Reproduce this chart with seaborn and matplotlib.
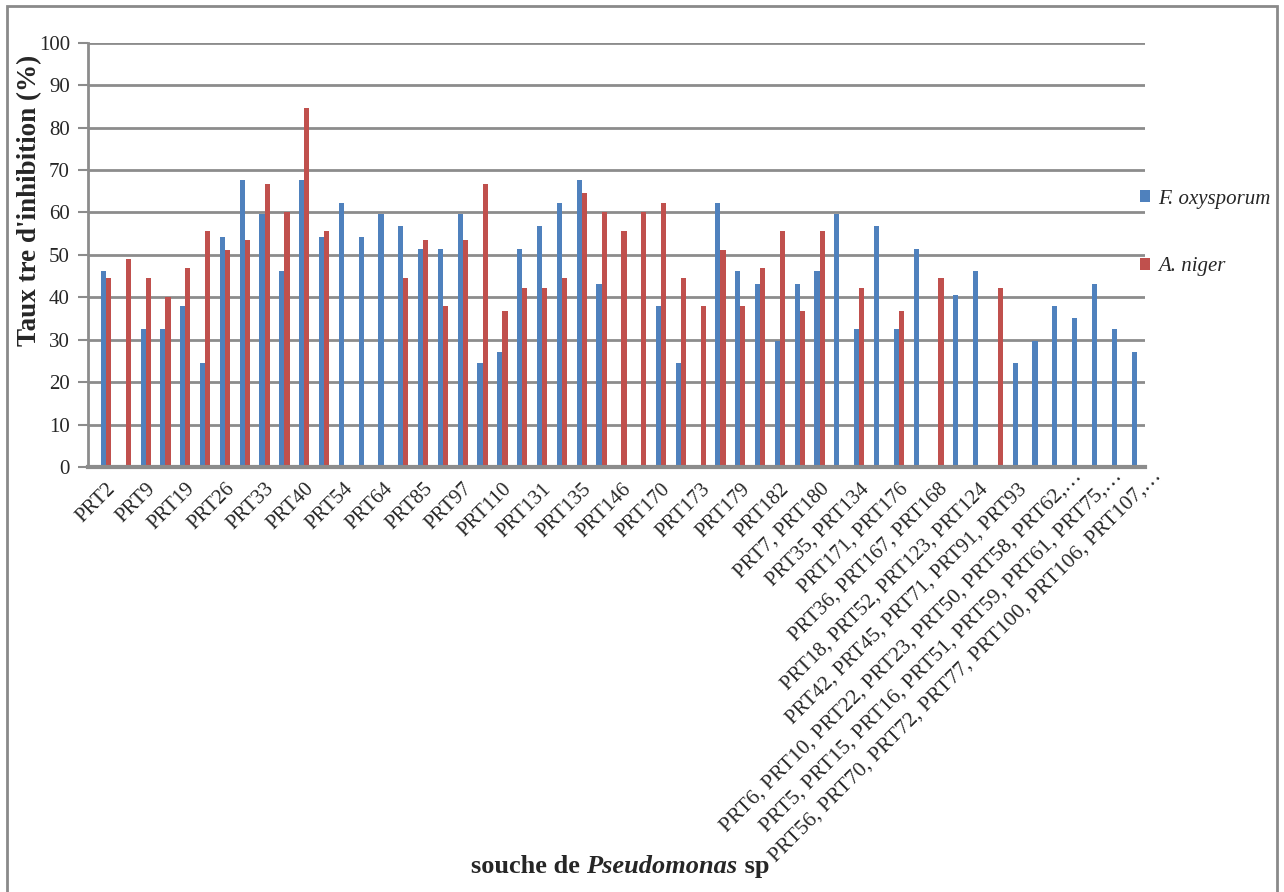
import numpy as np
import pandas as pd
import seaborn as sns
import matplotlib
matplotlib.use("Agg")
import matplotlib.pyplot as plt
import matplotlib.transforms as mtransforms
from matplotlib.patches import Rectangle, Patch

# ---------------- data ----------------
shown_labels = [
    "PRT2", "PRT9", "PRT19", "PRT26", "PRT33", "PRT40", "PRT54", "PRT64",
    "PRT85", "PRT97", "PRT110", "PRT131", "PRT135", "PRT146", "PRT170",
    "PRT173", "PRT179", "PRT182", "PRT7, PRT180", "PRT35, PRT134",
    "PRT171, PRT176", "PRT36, PRT167, PRT168", "PRT18, PRT52, PRT123, PRT124",
    "PRT42, PRT45, PRT71, PRT91, PRT93",
    "PRT6, PRT10, PRT22, PRT23, PRT50, PRT58, PRT62,\u2026",
    "PRT5, PRT15, PRT16, PRT51, PRT59, PRT61, PRT75,\u2026",
    "PRT56, PRT70, PRT72, PRT77, PRT100, PRT106, PRT107,\u2026",
]

f_oxysporum = [
    46.1, 0, 32.5, 32.5, 37.9, 24.4, 54.1, 67.7, 59.7, 46.1,
    67.7, 54.1, 62.3, 54.1, 59.7, 56.8, 51.4, 51.4, 59.7, 24.4,
    27.0, 51.4, 56.8, 62.3, 67.7, 43.2, 0, 0, 37.9, 24.4,
    0, 62.3, 46.1, 43.2, 29.7, 43.2, 46.1, 59.7, 32.5, 56.8,
    32.5, 51.4, 0, 40.6, 46.1, 0, 24.4, 29.7, 37.9, 35.2,
    43.2, 32.5, 27.0,
]
a_niger = [
    44.5, 49.0, 44.5, 40.1, 46.8, 55.7, 51.2, 53.4, 66.8, 60.1,
    84.7, 55.7, 0, 0, 0, 44.5, 53.4, 37.9, 53.4, 66.8,
    36.7, 42.3, 42.3, 44.5, 64.6, 60.1, 55.7, 60.1, 62.3, 44.5,
    37.9, 51.2, 37.9, 46.8, 55.7, 36.7, 55.7, 0, 42.3, 0,
    36.7, 0, 44.5, 0, 0, 42.3, 0, 0, 0, 0,
    0, 0, 0,
]
series_names = ["F. oxysporum", "A. niger"]
colors = ["#4f81bd", "#c0504d"]

n = len(f_oxysporum)
strain_idx = list(range(n))
df = pd.DataFrame({
    "souche": strain_idx * 2,
    "taux": f_oxysporum + a_niger,
    "serie": [series_names[0]] * n + [series_names[1]] * n,
})

# ---------------- figure ----------------
sns.set_theme(style="white")
plt.rcParams["font.family"] = ["Liberation Serif", "DejaVu Serif"]

W, H = 1284, 892
fig = plt.figure(figsize=(W / 100, H / 100), dpi=100)
ax_left, ax_right = 88 / W, 1145 / W
ax_bottom, ax_top = 1 - 467 / H, 1 - 42.7 / H
ax = fig.add_axes([ax_left, ax_bottom, ax_right - ax_left, ax_top - ax_bottom])

sns.barplot(data=df, x="souche", y="taux", hue="serie", hue_order=series_names,
            palette=colors, width=0.52, saturation=1, legend=False, ax=ax,
            order=strain_idx, linewidth=0)

grid_c = "#8c8c8c"
ax.set_ylim(0, 100)
ax.set_yticks(np.arange(0, 101, 10))
ax.yaxis.grid(True, color=grid_c, linewidth=2)
ax.set_axisbelow(True)
ax.set_xlim(-0.91, n - 1 + 0.42)
for s in ["top", "right"]:
    ax.spines[s].set_visible(False)
ax.spines["left"].set_color(grid_c)
ax.spines["left"].set_linewidth(2)
ax.spines["bottom"].set_color(grid_c)
ax.spines["bottom"].set_linewidth(3)
ax.tick_params(axis="y", which="both", left=True, length=7, width=1.5,
               color=grid_c, labelsize=15, pad=6)
ax.tick_params(axis="x", bottom=False, pad=3)
ax.set_xticks(strain_idx[::2])
ax.set_xticklabels(shown_labels, rotation=45, ha="right", va="top",
                   rotation_mode="anchor", fontsize=15)
# truncated labels: slightly wider, ellipsis hangs beyond the anchor point
for lab in ax.get_xticklabels():
    if lab.get_text().endswith("\u2026"):
        lab.set_fontsize(15.6)
        off = mtransforms.ScaledTranslation(15 / 100, 13 / 100, fig.dpi_scale_trans)
        lab.set_transform(lab.get_transform() + off)
ax.set_xlabel("")
ax.set_ylabel("")

# y label
fig.text(30 / W, 1 - 200 / H, "Taux tre d'inhibition (%)", rotation=90,
         ha="center", va="center", fontsize=19.5, fontweight="bold")

# x label with italic genus name
renderer = fig.canvas.get_renderer()
parts = [("souche de ", "normal"), ("Pseudomonas", "italic"), (" sp", "normal")]
texts = []
for txt, st in parts:
    t = fig.text(0, 1 - 873 / H, txt, fontsize=19, fontweight="bold",
                 fontstyle=st, ha="left", va="baseline")
    texts.append(t)
widths = [t.get_window_extent(renderer).width for t in texts]
total = sum(widths)
x0 = 620 - total / 2
for t, w in zip(texts, widths):
    t.set_x(x0 / W)
    x0 += w

# legend
handles = [Patch(facecolor=c, edgecolor="none") for c in colors]
leg = fig.legend(handles, series_names, loc="center left",
                 bbox_to_anchor=(1140 / W, 1 - 233 / H), frameon=False,
                 prop={"style": "italic", "size": 15}, handlelength=0.5,
                 handleheight=0.5, handletextpad=0.35, labelspacing=2.35,
                 borderpad=0, borderaxespad=0)

# outer chart frame
fig.patches.append(Rectangle((7 / W, -0.05), (1277 - 7) / W, 1.05 - 6 / H,
                             transform=fig.transFigure, fill=False,
                             edgecolor="#8a8a8a", linewidth=2))

fig.savefig("out.png", dpi=100)
